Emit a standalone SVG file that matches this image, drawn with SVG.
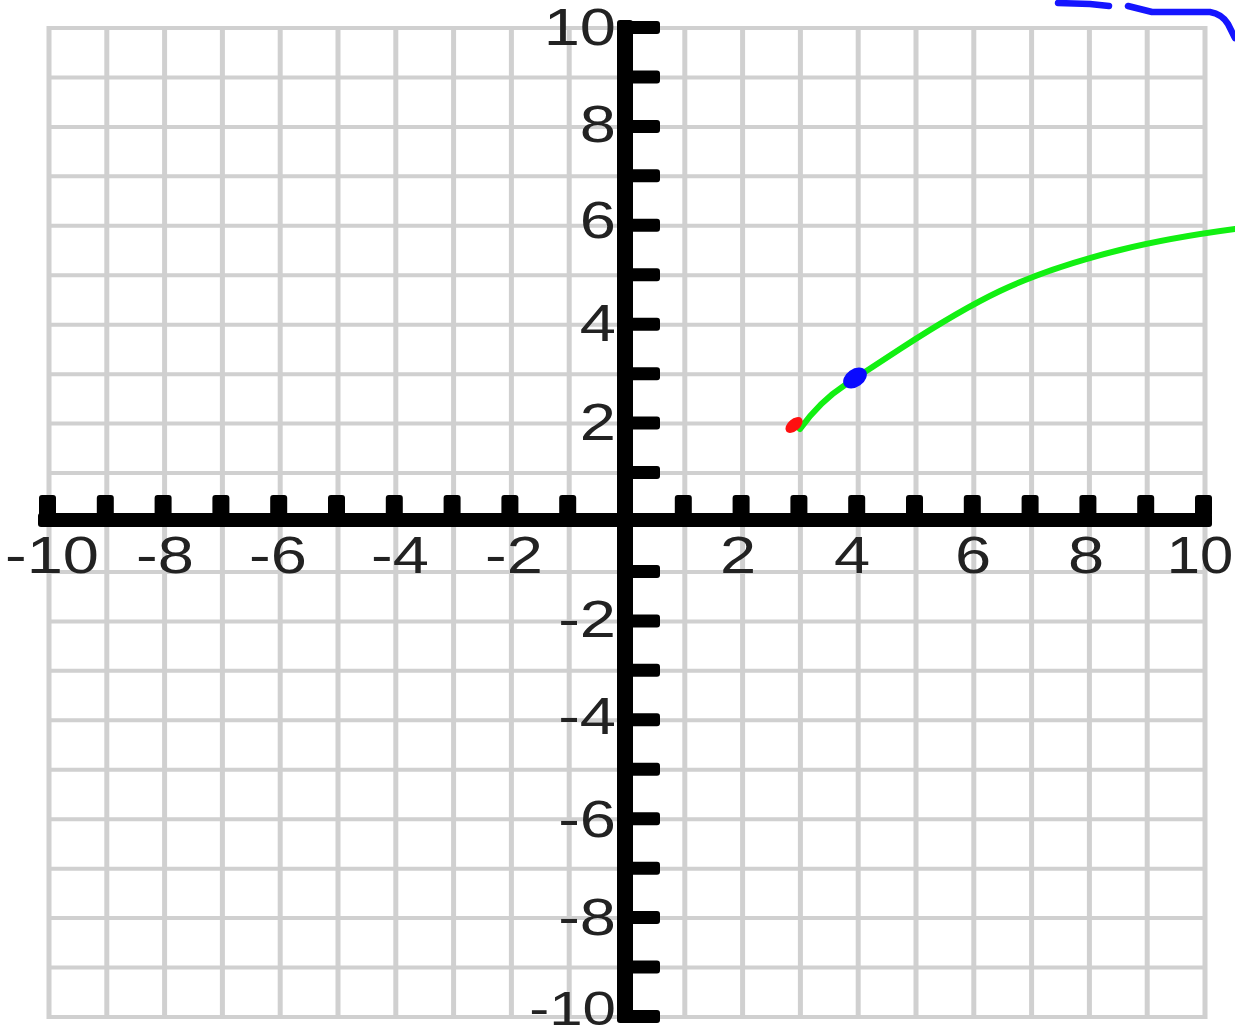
<svg xmlns="http://www.w3.org/2000/svg" width="1235" height="1036" viewBox="0 0 1235 1036">
<style>
.grid{stroke:#d0d0d0;fill:none}
.gv{stroke-width:5}
.gh{stroke-width:4}
.ax{fill:#000}
.lbl{font-family:"Liberation Sans",Arial,sans-serif;font-size:52px;fill:#222}
.yl{text-anchor:end}
.xl{text-anchor:middle}
</style>
<rect width="1235" height="1036" fill="#fff"/>
<g id="grid">
<path class="grid gv" d="M49,26V1019M106.8,26V1019M164.6,26V1019M222.4,26V1019M280.2,26V1019M338,26V1019M395.8,26V1019M453.6,26V1019M511.4,26V1019M569.2,26V1019M627,26V1019M684.8,26V1019M742.6,26V1019M800.4,26V1019M858.2,26V1019M916,26V1019M973.8,26V1019M1031.6,26V1019M1089.4,26V1019M1147.2,26V1019M1205,26V1019"/>
<path class="grid gh" d="M47,28H1207M47,77.45H1207M47,126.9H1207M47,176.35H1207M47,225.8H1207M47,275.25H1207M47,324.7H1207M47,374.15H1207M47,423.6H1207M47,473.05H1207M47,522.5H1207M47,571.95H1207M47,621.4H1207M47,670.85H1207M47,720.3H1207M47,769.75H1207M47,819.2H1207M47,868.65H1207M47,918.1H1207M47,967.55H1207M47,1017H1207"/>
</g>
<g id="x-axis">
<rect class="ax" x="38" y="513" width="1174" height="14" rx="3"/>
<g class="ax">
<rect x="39" y="495" width="17" height="22" rx="3"/>
<rect x="96.8" y="495" width="17" height="22" rx="3"/>
<rect x="154.6" y="495" width="17" height="22" rx="3"/>
<rect x="212.4" y="495" width="17" height="22" rx="3"/>
<rect x="270.2" y="495" width="17" height="22" rx="3"/>
<rect x="328" y="495" width="17" height="22" rx="3"/>
<rect x="385.8" y="495" width="17" height="22" rx="3"/>
<rect x="443.6" y="495" width="17" height="22" rx="3"/>
<rect x="501.4" y="495" width="17" height="22" rx="3"/>
<rect x="559.2" y="495" width="17" height="22" rx="3"/>
<rect x="674.8" y="495" width="17" height="22" rx="3"/>
<rect x="732.6" y="495" width="17" height="22" rx="3"/>
<rect x="790.4" y="495" width="17" height="22" rx="3"/>
<rect x="848.2" y="495" width="17" height="22" rx="3"/>
<rect x="906" y="495" width="17" height="22" rx="3"/>
<rect x="963.8" y="495" width="17" height="22" rx="3"/>
<rect x="1021.6" y="495" width="17" height="22" rx="3"/>
<rect x="1079.4" y="495" width="17" height="22" rx="3"/>
<rect x="1137.2" y="495" width="17" height="22" rx="3"/>
<rect x="1195" y="495" width="17" height="22" rx="3"/>
</g>
</g>
<g id="y-axis">
<rect class="ax" x="617" y="20" width="16" height="1003" rx="3"/>
<g class="ax">
<rect x="628" y="21" width="32" height="13" rx="3"/>
<rect x="628" y="70.45" width="32" height="13" rx="3"/>
<rect x="628" y="119.9" width="32" height="13" rx="3"/>
<rect x="628" y="169.35" width="32" height="13" rx="3"/>
<rect x="628" y="218.8" width="32" height="13" rx="3"/>
<rect x="628" y="268.25" width="32" height="13" rx="3"/>
<rect x="628" y="317.7" width="32" height="13" rx="3"/>
<rect x="628" y="367.15" width="32" height="13" rx="3"/>
<rect x="628" y="416.6" width="32" height="13" rx="3"/>
<rect x="628" y="466.05" width="32" height="13" rx="3"/>
<rect x="628" y="564.95" width="32" height="13" rx="3"/>
<rect x="628" y="614.4" width="32" height="13" rx="3"/>
<rect x="628" y="663.85" width="32" height="13" rx="3"/>
<rect x="628" y="713.3" width="32" height="13" rx="3"/>
<rect x="628" y="762.75" width="32" height="13" rx="3"/>
<rect x="628" y="812.2" width="32" height="13" rx="3"/>
<rect x="628" y="861.65" width="32" height="13" rx="3"/>
<rect x="628" y="911.1" width="32" height="13" rx="3"/>
<rect x="628" y="960.55" width="32" height="13" rx="3"/>
<rect x="628" y="1010" width="32" height="13" rx="3"/>
</g>
</g>
<g id="y-labels" class="lbl yl">
<text transform="translate(616,45) scale(1.25,1)">10</text>
<text transform="translate(616,142) scale(1.25,1)">8</text>
<text transform="translate(616,238) scale(1.25,1)">6</text>
<text transform="translate(616,341) scale(1.25,1)">4</text>
<text transform="translate(616,440) scale(1.25,1)">2</text>
<text transform="translate(616,637) scale(1.25,1)">-2</text>
<text transform="translate(616,734) scale(1.25,1)">-4</text>
<text transform="translate(616,837) scale(1.25,1)">-6</text>
<text transform="translate(616,935) scale(1.25,1)">-8</text>
<text transform="translate(616,1025) scale(1.25,1)" style="font-size:48px">-10</text>
</g>
<g id="x-labels" class="lbl xl">
<text transform="translate(52,573) scale(1.25,1)">-10</text>
<text transform="translate(165,573) scale(1.25,1)">-8</text>
<text transform="translate(278,573) scale(1.25,1)">-6</text>
<text transform="translate(400,573) scale(1.25,1)">-4</text>
<text transform="translate(514,573) scale(1.25,1)">-2</text>
<text transform="translate(738,573) scale(1.25,1)">2</text>
<text transform="translate(852,573) scale(1.25,1)">4</text>
<text transform="translate(973,573) scale(1.25,1)">6</text>
<text transform="translate(1086,573) scale(1.25,1)">8</text>
<text transform="translate(1200,573) scale(1.15,1)">10</text>
</g>
<g id="curve">
<path d="M800,429 C810,415 825,398 845,385 S880,362 900,349 S960,310 1000,291 S1080,260 1120,250 S1190,235 1235,229" fill="none" stroke="#12f012" stroke-width="6" stroke-linecap="round" stroke-linejoin="round"/>
</g>
<g id="points">
<ellipse cx="794" cy="425" rx="10" ry="6" transform="rotate(-40 794 425)" fill="#ff1010"/>
<ellipse cx="855" cy="378" rx="13" ry="9" transform="rotate(-35 855 378)" fill="#0a0aff"/>
</g>
<g id="blue-stroke" fill="none" stroke="#1515ff" stroke-width="6.5" stroke-linecap="round" stroke-linejoin="round">
<path d="M1058,3 L1090,4 L1109,6"/>
<path d="M1128,6 L1140,9 L1152,12 L1210,12 Q1222,14 1228,24 L1235,38"/>
</g>
</svg>
